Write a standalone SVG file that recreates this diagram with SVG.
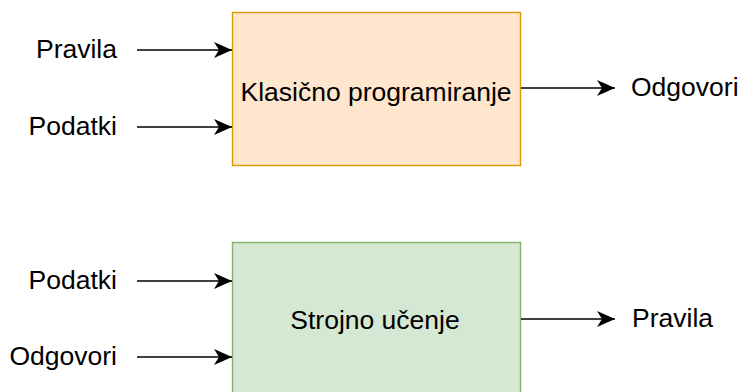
<svg xmlns="http://www.w3.org/2000/svg" width="743" height="392" viewBox="0 0 743 392">
<style>
text{font-family:"Liberation Sans",Arial,Helvetica,sans-serif;font-size:26.5px;fill:#000}
.r{text-anchor:end}
.c{text-anchor:middle}
.edge{stroke:#000;stroke-width:1.4;fill:none;marker-end:url(#ah)}
</style>
<defs>
<marker id="ah" viewBox="0 0 18 16" refX="18" refY="8" markerWidth="18" markerHeight="16" markerUnits="userSpaceOnUse" orient="auto">
<path d="M0,0 L18,8 L0,16 L5,8 Z" fill="#000"/>
</marker>
</defs>
<g id="klasicno">
<rect x="232.5" y="12.5" width="288" height="153" fill="#ffe6cc" stroke="#d79b00" stroke-width="1.4"/>
<text class="c" x="376" y="101">Klasično programiranje</text>
</g>
<g id="strojno">
<rect x="232.5" y="242.5" width="288" height="160" fill="#d5e8d4" stroke="#82b366" stroke-width="1.4"/>
<text class="c" x="375" y="329">Strojno učenje</text>
</g>
<g id="labels">
<text class="r" x="117" y="58">Pravila</text>
<text class="r" x="117" y="135">Podatki</text>
<text x="631" y="96">Odgovori</text>
<text class="r" x="117" y="289">Podatki</text>
<text class="r" x="117" y="365">Odgovori</text>
<text x="632" y="327">Pravila</text>
</g>
<g id="connectors">
<line class="edge" x1="137" y1="50" x2="232" y2="50"/>
<line class="edge" x1="137" y1="127" x2="232" y2="127"/>
<line class="edge" x1="521" y1="88" x2="615" y2="88"/>
<line class="edge" x1="137" y1="281" x2="232" y2="281"/>
<line class="edge" x1="137" y1="357" x2="232" y2="357"/>
<line class="edge" x1="521" y1="319" x2="615" y2="319"/>
</g>
</svg>
